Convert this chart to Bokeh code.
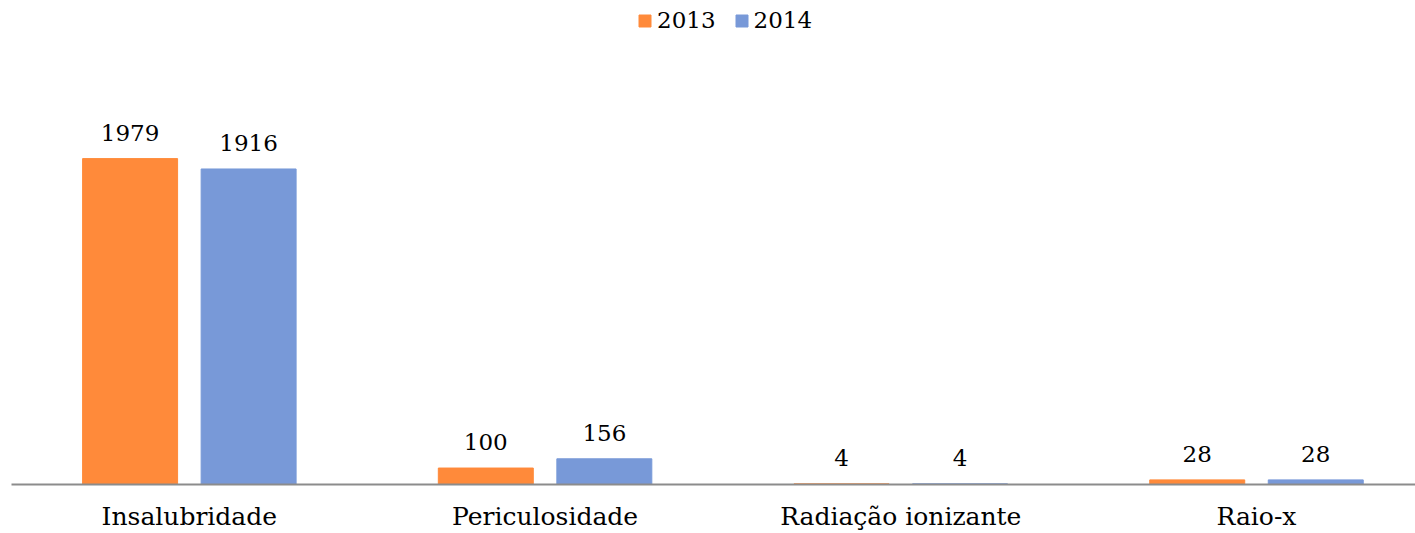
from bokeh.plotting import figure
from bokeh.models import ColumnDataSource, Range1d, FixedTicker, Legend, LegendItem
from bokeh.core.properties import value
from bokeh.embed import file_html
from bokeh.resources import INLINE

categories = ["Insalubridade", "Periculosidade", "Radiação ionizante", "Raio-x"]
years = ["2013", "2014"]
values_2013 = [1979, 100, 4, 28]
values_2014 = [1916, 156, 4, 28]
colors = ["#FF8A3A", "#7899D8"]

FONT = "DejaVu Serif"
FS = "25px"

p = figure(width=1415, height=533, output_backend="svg", toolbar_location=None,
           x_range=Range1d(0, 3.947), y_range=Range1d(0, 2939),
           min_border_left=11, min_border_right=0, min_border_top=0, min_border_bottom=40)

centers = [i + 0.5 for i in range(len(categories))]
bw = 0.267
off = 0.1666
renderers = []
for k, (vals, col) in enumerate(zip([values_2013, values_2014], colors)):
    xs = [c + (-off if k == 0 else off) for c in centers]
    src = ColumnDataSource(dict(x=xs, top=vals, lab=[str(v) for v in vals]))
    r = p.vbar(x="x", top="top", bottom=0, width=bw, color=col, source=src)
    renderers.append(r)
    p.text(x="x", y="top", text="lab", source=src, text_align="center",
           text_baseline="middle", y_offset=-26, text_font=value(FONT),
           text_font_size="23px", text_color="#000000")

legend = Legend(items=[LegendItem(label=y, renderers=[r]) for y, r in zip(years, renderers)],
                orientation="horizontal", location=(626, 451),
                label_text_font=FONT, label_text_font_size="23px", label_text_color="#000000",
                glyph_width=15, glyph_height=15, spacing=18, label_standoff=5,
                border_line_color=None, background_fill_alpha=0, padding=0, margin=0)
p.add_layout(legend)

p.xaxis.ticker = FixedTicker(ticks=centers)
p.xaxis.major_label_overrides = {c: name for c, name in zip(centers, categories)}
p.xaxis.major_label_text_font = FONT
p.xaxis.major_label_text_font_size = FS
p.xaxis.major_label_text_color = "#000000"
p.xaxis.major_tick_line_color = None
p.xaxis.minor_tick_line_color = None
p.xaxis.axis_line_color = "#8C8C8C"
p.xaxis.axis_line_width = 2
p.xaxis.major_label_standoff = 11
p.yaxis.visible = False
p.xgrid.grid_line_color = None
p.ygrid.grid_line_color = None
p.outline_line_color = None

open("out.html", "w").write(file_html(p, INLINE))
